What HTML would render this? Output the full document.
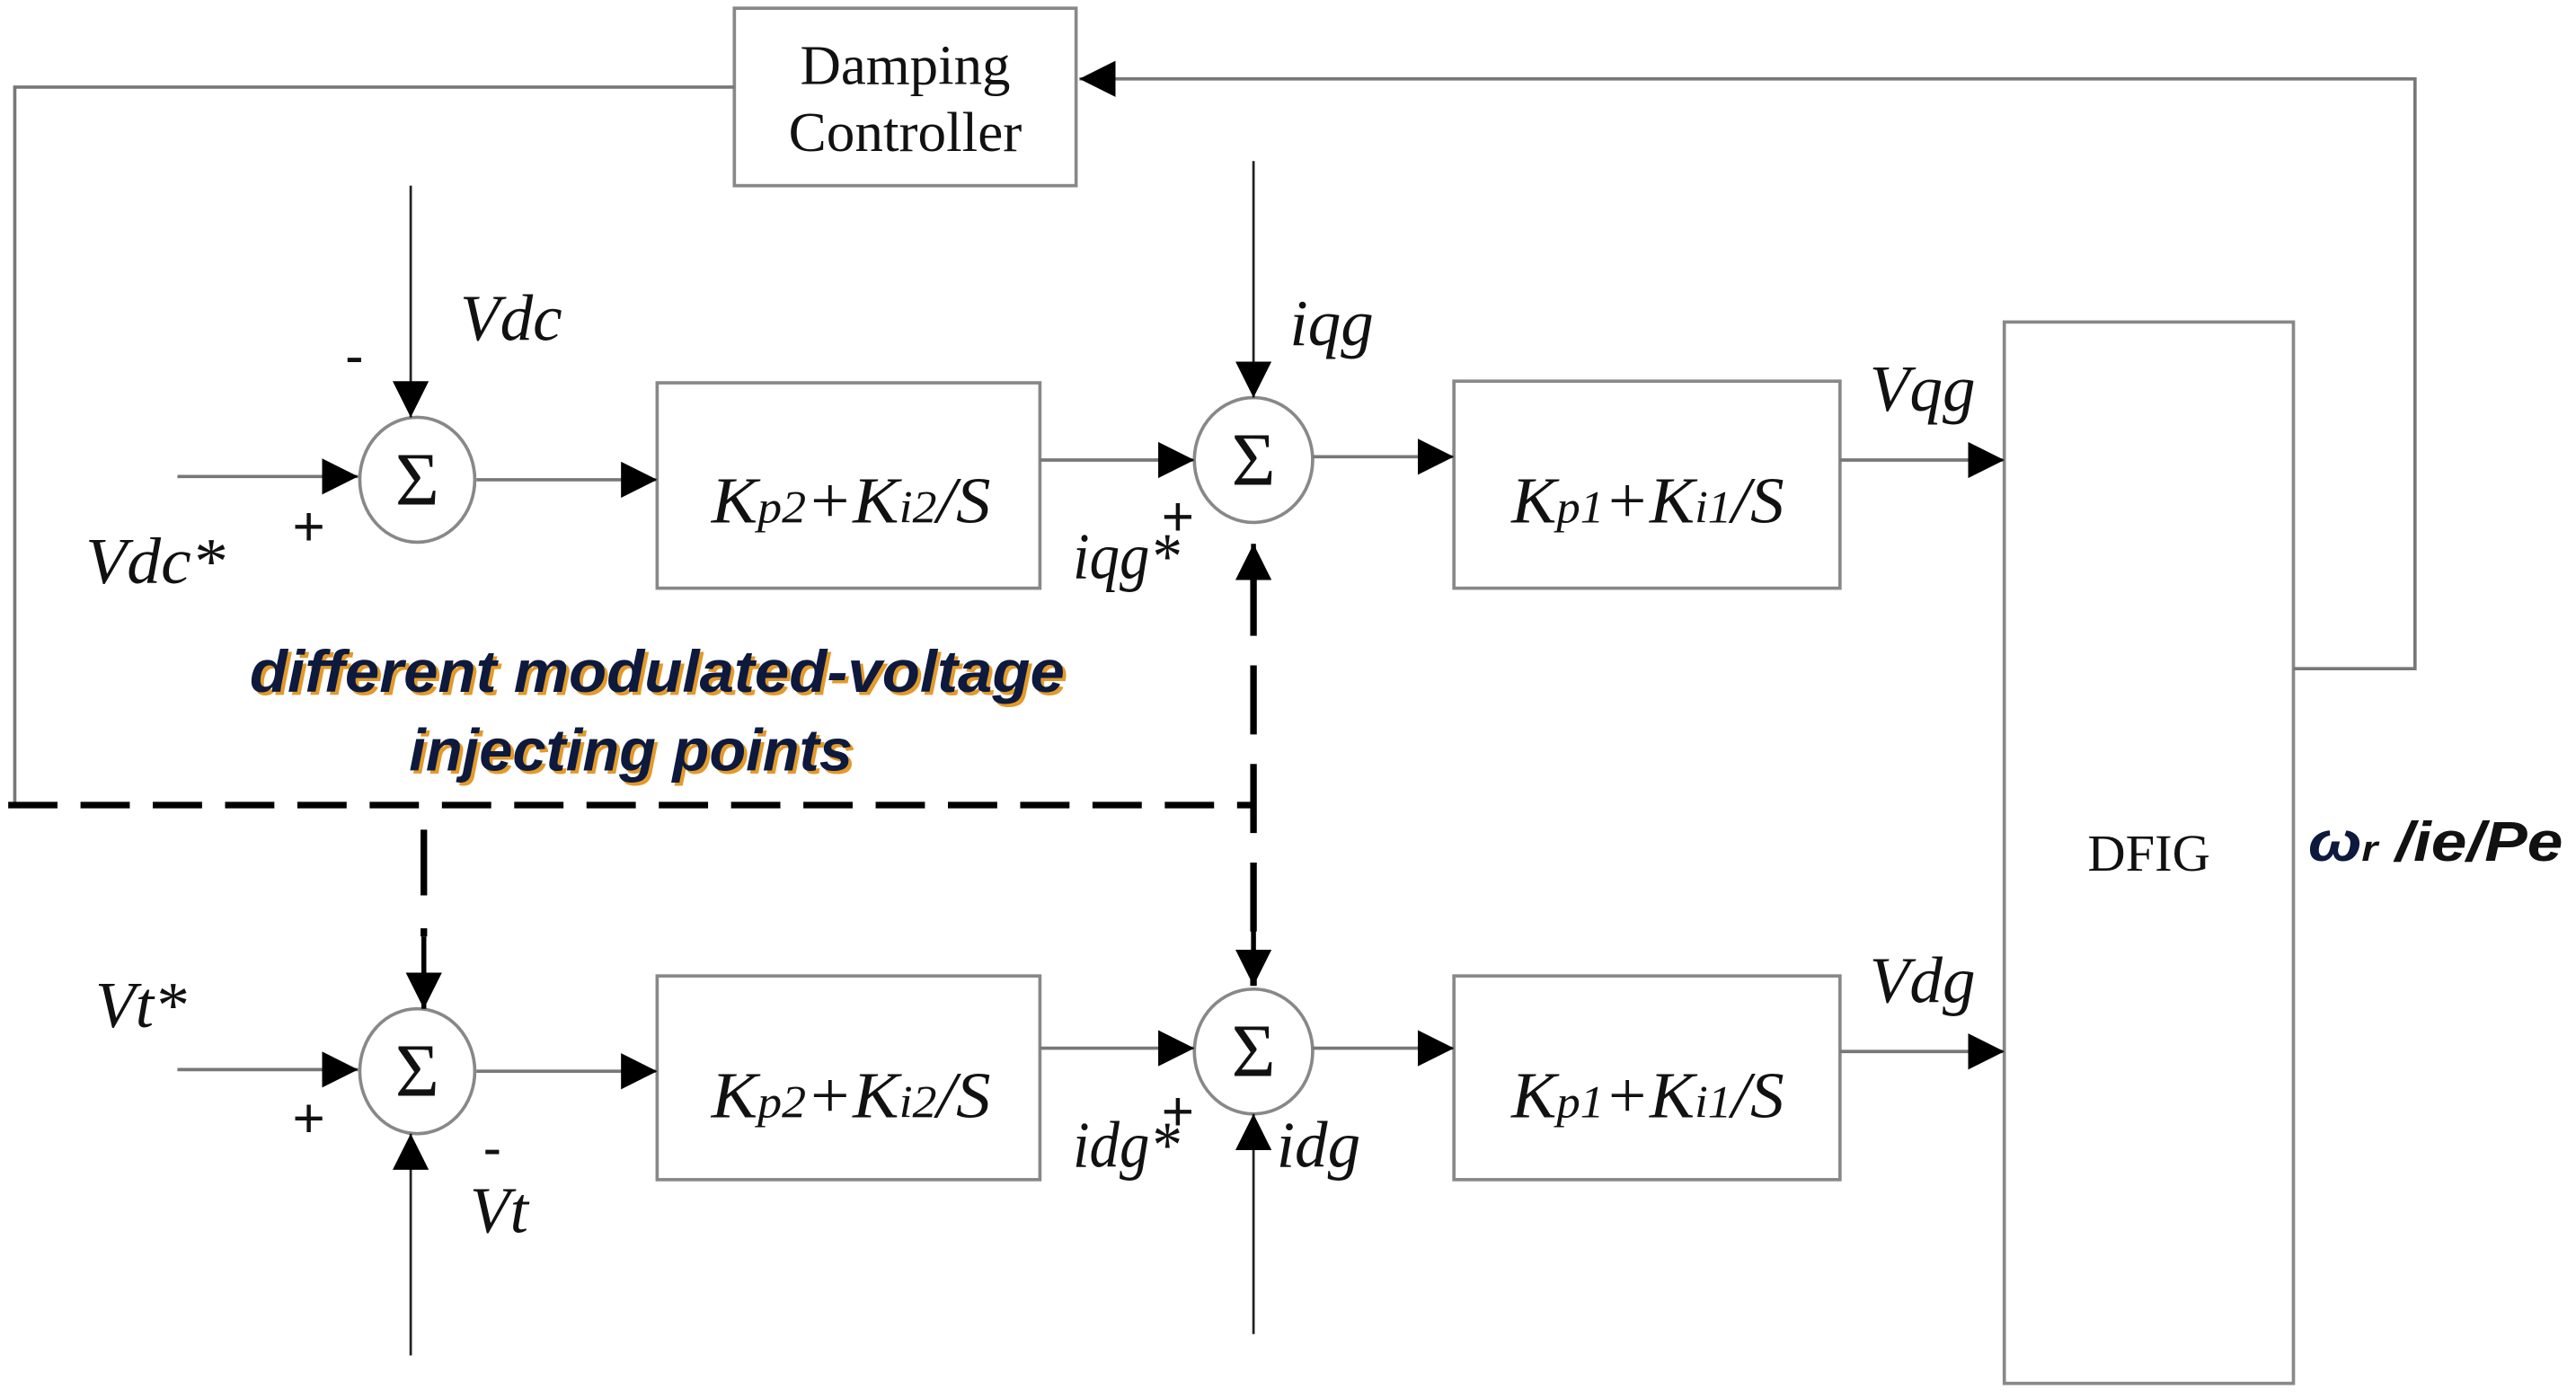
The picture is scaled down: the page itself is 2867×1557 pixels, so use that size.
<!DOCTYPE html>
<html><head><meta charset="utf-8"><style>
html,body{margin:0;padding:0;background:#fff;}
svg{display:block;}
.s{font-family:"Liberation Serif",serif;}
.i{font-family:"Liberation Serif",serif;font-style:italic;}
.b{font-family:"Liberation Sans",sans-serif;font-style:italic;font-weight:bold;}
</style></head><body>
<svg width="2867" height="1557" viewBox="0 0 1568 851.5" preserveAspectRatio="none" xmlns="http://www.w3.org/2000/svg">
<defs>
<marker id="a" viewBox="0 0 10 10" refX="10" refY="5" markerWidth="22" markerHeight="22" markerUnits="userSpaceOnUse" orient="auto"><path d="M0,0 L10,5 L0,10 z" fill="#000"/></marker>
</defs>
<g fill="none" stroke="#888" stroke-width="2">
<rect x="447" y="5" width="208" height="108"/>
<rect x="400" y="233" width="233" height="125"/>
<rect x="885" y="232" width="235" height="126"/>
<rect x="400" y="594" width="233" height="124"/>
<rect x="885" y="594" width="235" height="124"/>
<rect x="1220" y="196" width="176" height="646"/>
<ellipse cx="254" cy="292" rx="35" ry="38"/>
<ellipse cx="763" cy="280" rx="36" ry="38"/>
<ellipse cx="254" cy="652" rx="35" ry="38"/>
<ellipse cx="763" cy="640" rx="36" ry="38"/>
</g>
<g fill="none" stroke="#777" stroke-width="2">
<polyline points="447,53 9,53 9,490"/>
<polyline points="1396,407 1470,407 1470,48 657,48" marker-end="url(#a)"/>
<line x1="108" y1="290" x2="218" y2="290" marker-end="url(#a)"/>
<line x1="290" y1="292" x2="400" y2="292" marker-end="url(#a)"/>
<line x1="633" y1="280" x2="727" y2="280" marker-end="url(#a)"/>
<line x1="799" y1="278" x2="885" y2="278" marker-end="url(#a)"/>
<line x1="1120" y1="280" x2="1220" y2="280" marker-end="url(#a)"/>
<line x1="108" y1="651" x2="218" y2="651" marker-end="url(#a)"/>
<line x1="290" y1="652" x2="400" y2="652" marker-end="url(#a)"/>
<line x1="633" y1="638" x2="727" y2="638" marker-end="url(#a)"/>
<line x1="799" y1="638" x2="885" y2="638" marker-end="url(#a)"/>
<line x1="1120" y1="640" x2="1220" y2="640" marker-end="url(#a)"/>
</g>
<g fill="none" stroke="#222" stroke-width="1.5">
<line x1="250" y1="113" x2="250" y2="254" marker-end="url(#a)"/>
<line x1="763" y1="98" x2="763" y2="242" marker-end="url(#a)"/>
<line x1="250" y1="825" x2="250" y2="690" marker-end="url(#a)"/>
<line x1="763" y1="812" x2="763" y2="678" marker-end="url(#a)"/>
</g>
<g fill="none" stroke="#000" stroke-width="4">
<line x1="5" y1="490" x2="763" y2="490" stroke-dasharray="30,14"/>
<line x1="258" y1="505" x2="258" y2="570" stroke-dasharray="40,20"/>
<line x1="258" y1="570" x2="258" y2="614" stroke-width="3" marker-end="url(#a)"/>
<line x1="763" y1="345" x2="763" y2="600" stroke-dasharray="42,18"/>
<line x1="763" y1="370" x2="763" y2="331" stroke-width="3" marker-end="url(#a)"/>
<line x1="763" y1="560" x2="763" y2="600" stroke-width="3" marker-end="url(#a)"/>
</g>
<g class="s" font-size="34" fill="#111" text-anchor="middle">
<text x="551" y="51" textLength="128" lengthAdjust="spacingAndGlyphs">Damping</text>
<text x="551" y="92" textLength="142" lengthAdjust="spacingAndGlyphs">Controller</text>
<text x="1308" y="530" font-size="32">DFIG</text>
<text x="254" y="307" font-size="46">Σ</text>
<text x="763" y="295" font-size="46">Σ</text>
<text x="254" y="667" font-size="46">Σ</text>
<text x="763" y="655" font-size="46">Σ</text>
</g>
<g class="i" font-size="40" fill="#111">
<text x="433" y="318" textLength="170" lengthAdjust="spacingAndGlyphs">K<tspan font-size="28">p2</tspan>+K<tspan font-size="28">i2</tspan>/S</text>
<text x="920" y="318" textLength="166" lengthAdjust="spacingAndGlyphs">K<tspan font-size="28">p1</tspan>+K<tspan font-size="28">i1</tspan>/S</text>
<text x="433" y="680" textLength="170" lengthAdjust="spacingAndGlyphs">K<tspan font-size="28">p2</tspan>+K<tspan font-size="28">i2</tspan>/S</text>
<text x="920" y="680" textLength="166" lengthAdjust="spacingAndGlyphs">K<tspan font-size="28">p1</tspan>+K<tspan font-size="28">i1</tspan>/S</text>
<text x="280" y="207">Vdc</text>
<text x="52" y="355" textLength="85" lengthAdjust="spacingAndGlyphs">Vdc*</text>
<text x="785" y="210">iqg</text>
<text x="653" y="352" textLength="65" lengthAdjust="spacingAndGlyphs">iqg*</text>
<text x="1138" y="250">Vqg</text>
<text x="1138" y="610">Vdg</text>
<text x="58" y="625">Vt*</text>
<text x="286" y="750">Vt</text>
<text x="653" y="710" textLength="65" lengthAdjust="spacingAndGlyphs">idg*</text>
<text x="777" y="710">idg</text>
</g>
<g font-family="Liberation Sans,sans-serif" font-size="34" fill="#111">
<text x="210" y="228">-</text>
<text x="178" y="332">+</text>
<text x="707" y="326">+</text>
<text x="178" y="692">+</text>
<text x="294" y="710">-</text>
<text x="707" y="688">+</text>
</g>
<g class="b" font-size="36" text-anchor="middle">
<text x="402" y="423" fill="#e39a2a" textLength="496" lengthAdjust="spacingAndGlyphs">different modulated-voltage</text>
<text x="400" y="421" fill="#0d1a3d" textLength="496" lengthAdjust="spacingAndGlyphs">different modulated-voltage</text>
<text x="386" y="471" fill="#e39a2a" textLength="270" lengthAdjust="spacingAndGlyphs">injecting points</text>
<text x="384" y="469" fill="#0d1a3d" textLength="270" lengthAdjust="spacingAndGlyphs">injecting points</text>
</g>
<g class="b" font-size="34" fill="#111">
<text x="1405" y="524" textLength="155" lengthAdjust="spacingAndGlyphs"><tspan fill="#0d1a3d">ω</tspan><tspan font-size="22">r</tspan> /ie/Pe</text>
</g>
</svg>
</body></html>
